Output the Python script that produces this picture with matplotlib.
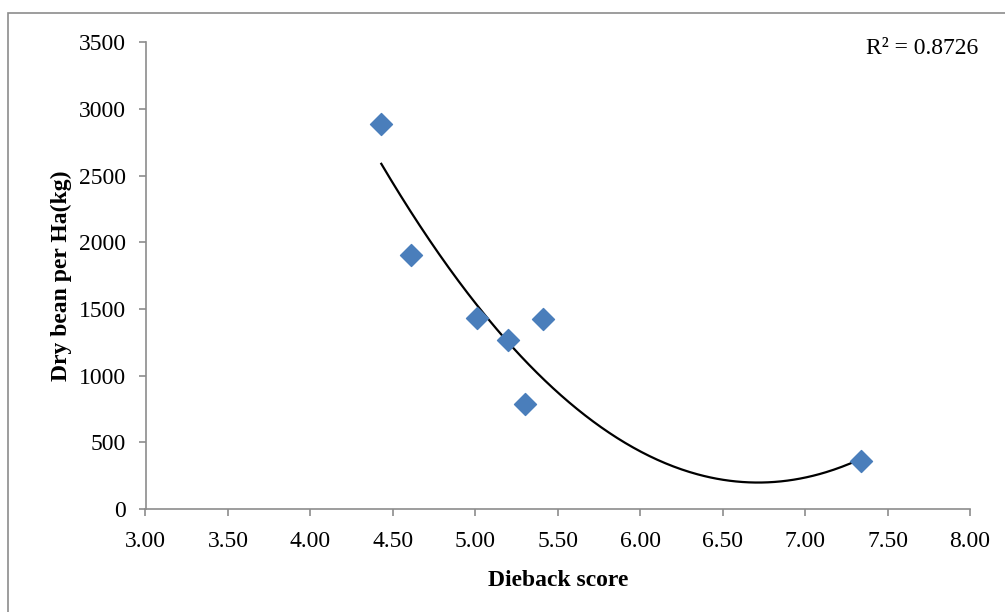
import numpy as np
import matplotlib
matplotlib.use("Agg")
import matplotlib.pyplot as plt
from matplotlib.patches import Rectangle

dieback_score = [4.43, 4.61, 5.01, 5.20, 5.41, 5.30, 7.34]
dry_bean_kg = [2890, 1905, 1432, 1265, 1422, 790, 360]
x_ticks = [3.0, 3.5, 4.0, 4.5, 5.0, 5.5, 6.0, 6.5, 7.0, 7.5, 8.0]
y_ticks = [0, 500, 1000, 1500, 2000, 2500, 3000, 3500]
r2_label = "R² = 0.8726"

plt.rcParams['font.family'] = ['Liberation Serif', 'DejaVu Serif']

W, H = 1005, 612
fig = plt.figure(figsize=(W / 100, H / 100), dpi=100)

# outer chart border (right and bottom edges lie outside the picture)
fig.patches.append(Rectangle((8 / W, -0.2), 1.5, 1.2 - 13 / H, transform=fig.transFigure,
                             fill=False, edgecolor='#8c8c8c', linewidth=1.2))

left, right, top, bottom = 145.5, 970, 42.3, 509
ax = fig.add_axes([left / W, (H - bottom) / H, (right - left) / W, (bottom - top) / H])

x = np.array(dieback_score)
y = np.array(dry_bean_kg)
coef = np.polyfit(x, y, 2)
xs = np.linspace(x.min(), x.max(), 300)
ax.plot(xs, np.polyval(coef, xs), color='black', linewidth=1.6, zorder=2)
ax.scatter(x, y, marker='D', s=125, color='#4a7ebb', edgecolors='#4a7ebb', zorder=3)

ax.set_xlim(3.0, 8.0)
ax.set_ylim(0, 3500)
ax.set_xticks(x_ticks)
ax.set_xticklabels([f"{t:.2f}" for t in x_ticks])
ax.set_yticks(y_ticks)
ax.set_yticklabels([str(t) for t in y_ticks])

for s in ['top', 'right']:
    ax.spines[s].set_visible(False)
for s in ['left', 'bottom']:
    ax.spines[s].set_color('#8c8c8c')
    ax.spines[s].set_linewidth(1.2)
ax.tick_params(axis='both', direction='out', length=5, width=1.2, color='#8c8c8c',
               labelsize=17, labelcolor='black')
ax.tick_params(axis='y', pad=9)
ax.tick_params(axis='x', pad=10.5)

ax.set_xlabel("Dieback score", fontsize=17, fontweight='bold', labelpad=13)
ax.set_ylabel("Dry bean per Ha(kg)", fontsize=17, fontweight='bold', labelpad=5)

fig.text(922 / W, 1 - 48 / H, r2_label, fontsize=17, ha='center', va='center')

fig.savefig("out.png", dpi=100)
